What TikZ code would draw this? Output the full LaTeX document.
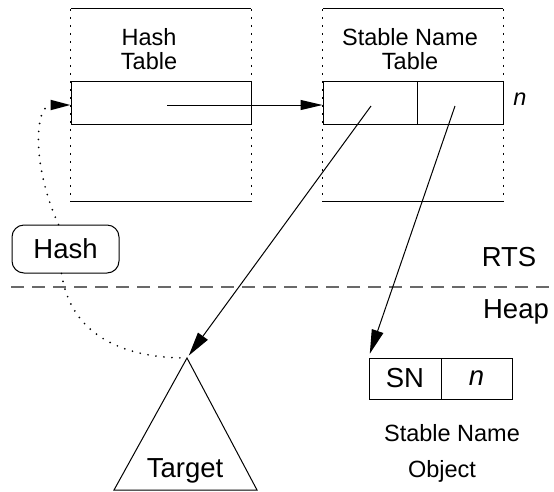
\documentclass[tikz,border=0pt]{standalone}
\usepackage{fontspec}
\setmainfont{Liberation Sans}
\usepackage{tikz}
\usetikzlibrary{arrows.meta,positioning}
\definecolor{sepgray}{RGB}{105,105,105}

\begin{document}
\begin{tikzpicture}[x=1pt, y=-1pt,
    cell/.style={rectangle, draw, line width=1pt, inner sep=0pt,
                 font=\fontsize{27.5}{30}\selectfont},
    lbl/.style={inner sep=0pt, align=center, font=\fontsize{23.5}{24}\selectfont},
    biglbl/.style={inner sep=0pt, font=\fontsize{27.5}{30}\selectfont},
    rim/.style={line width=1.2pt},
    side/.style={line width=1pt, dash pattern=on 2pt off 6pt},
    arr/.style={-{Triangle[length=24pt,width=12pt]}, line width=1pt},
    link/.style={line width=1.9pt, dash pattern=on 0pt off 8pt, line cap=round},
    sepline/.style={line width=1.5pt, sepgray, dash pattern=on 13pt off 8pt},
  ]
    \useasboundingbox (0,0) rectangle (554,491);

    \node[minimum width=180pt, minimum height=192pt, inner sep=0pt] (htab) at (161,105) {};
    \node[minimum width=180pt, minimum height=192pt, inner sep=0pt] (stab) at (413,105) {};
    \draw[rim] (htab.north west) -- (htab.north east);
    \draw[rim] (htab.south west) -- (htab.south east);
    \draw[side] (htab.north west) -- (htab.south west);
    \draw[side] (htab.north east) -- (htab.south east);
    \draw[rim] (stab.north west) -- (stab.north east);
    \draw[rim] (stab.south west) -- (stab.south east);
    \draw[side] (stab.north west) -- (stab.south west);
    \draw[side] (stab.north east) -- (stab.south east);

    \node[lbl, anchor=base] (htitle) at (149,69) {Hash\\Table};
    \node[lbl, anchor=base] (stitle) at (410,69) {Stable Name\\Table};

    \node[cell, minimum width=180pt, minimum height=43pt] (hrow) at (161,102.5) {};
    \node[cell, minimum width=94pt, minimum height=43pt] (snl) at (370,102.5) {};
    \node[cell, minimum width=86pt, minimum height=43pt] (snr) at (460,102.5) {};
    \node[lbl, anchor=base, font=\fontsize{23.5}{24}\selectfont\itshape] (nidx) at (520,105) {n};

    \node[cell, rounded corners=12pt, minimum width=107pt, minimum height=48pt] (hash) at (65.5,249) {Hash};

    \draw[sepline] (11,287) -- (554,287);
    \node[biglbl, anchor=base] (rts) at (509,266) {RTS};
    \node[biglbl, anchor=base] (heap) at (516,318) {Heap};

    \coordinate (tgt) at (187,358);
    \draw[line width=1pt] (tgt) -- ++(-73,132) -- ++(143,0) -- cycle;
    \node[biglbl, anchor=base] (tname) at (185,477) {Target};

    \node[cell, minimum width=72pt, minimum height=41pt] (sn) at (405,378.5) {SN};
    \node[cell, minimum width=71pt, minimum height=41pt, font=\fontsize{27.5}{30}\selectfont\itshape] (snn) at (476.5,378.5) {n};
    \node[lbl, anchor=base] (objname) at (452,441) {Stable Name};
    \node[lbl, anchor=base] (objkind) at (442,477) {Object};

    \coordinate (hptr) at (167,105);
    \coordinate (slptr) at (371,106);
    \coordinate (srptr) at (455,106);
    \draw[arr, {-Triangle[length=22pt,width=10pt]}] (hptr) -- (hptr -| snl.west);
    \draw[arr, shorten >=3pt] (slptr) -- (tgt);
    \draw[arr, shorten >=4pt] (srptr) -- (sn.north west);
    \draw[link, -{Triangle[length=20pt,width=10pt]}] ([xshift=-7pt]hash.north)
        .. controls +(-28,-62) and +(-35,0) .. (hrow.west |- hptr);
    \draw[link] ([xshift=-4pt]hash.south) .. controls +(9,60) and +(-67,0) .. (tgt);
  \end{tikzpicture}
\end{document}
